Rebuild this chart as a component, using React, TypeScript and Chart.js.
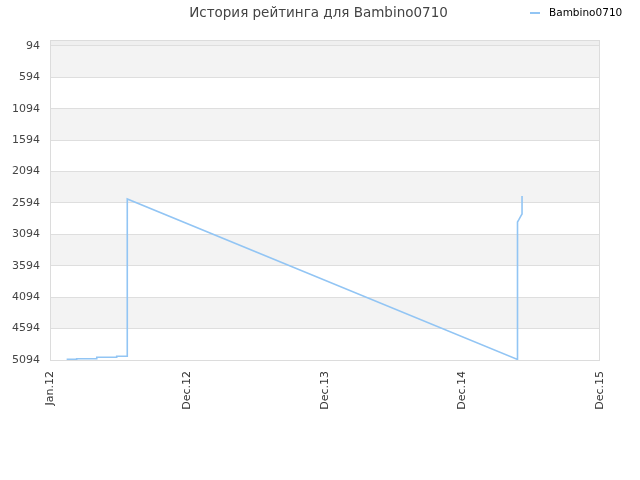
import { useEffect, useRef } from "react";
import Chart from "chart.js/auto";

const title = "История рейтинга для Bambino0710";
const seriesName = "Bambino0710";
const xLabels = ["Jan.12", "Dec.12", "Dec.13", "Dec.14", "Dec.15"];
const yTicks = [94, 594, 1094, 1594, 2094, 2594, 3094, 3594, 4094, 4594, 5094];
// x in label units (0 = Jan.12, 1 = Dec.12, ...)
const xs = [0.121, 0.194, 0.194, 0.34, 0.34, 0.485, 0.485, 0.562, 0.562, 3.4, 3.4, 3.41, 3.425, 3.433, 3.433];
const ratings = [5083, 5083, 5074, 5074, 5051, 5051, 5035, 5035, 2530, 5085, 2897, 2860, 2800, 2770, 2482];

const lineColor = "#92c5f4";

const bandsPlugin = {
  id: "bands",
  beforeDraw(chart: any) {
    const { ctx, chartArea } = chart;
    const y = chart.scales.y;
    ctx.save();
    // strip above first tick
    ctx.fillStyle = "#efefef";
    ctx.fillRect(chartArea.left, chartArea.top, chartArea.right - chartArea.left, y.getPixelForValue(yTicks[0]) - chartArea.top);
    for (let i = 0; i < yTicks.length - 1; i++) {
      if (i % 2 === 0) {
        const a = y.getPixelForValue(yTicks[i]);
        const b = y.getPixelForValue(yTicks[i + 1]);
        ctx.fillStyle = "#f3f3f3";
        ctx.fillRect(chartArea.left, a, chartArea.right - chartArea.left, b - a);
      }
    }
    ctx.restore();
  },
  afterDraw(chart: any) {
    const { ctx, chartArea } = chart;
    ctx.save();
    ctx.strokeStyle = "#dcdcdc";
    ctx.lineWidth = 1;
    ctx.strokeRect(chartArea.left + 0.5, chartArea.top + 0.5, chartArea.right - chartArea.left - 1, chartArea.bottom - chartArea.top);
    // title
    ctx.fillStyle = "#444";
    ctx.font = "13.5px 'DejaVu Sans'";
    ctx.textBaseline = "middle";
    ctx.textAlign = "center";
    ctx.fillText(title, 318.5, 13);
    // legend
    ctx.strokeStyle = lineColor;
    ctx.lineWidth = 2;
    ctx.beginPath();
    ctx.moveTo(530, 13);
    ctx.lineTo(540, 13);
    ctx.stroke();
    ctx.fillStyle = "#000";
    ctx.font = "10.5px 'DejaVu Sans'";
    ctx.textAlign = "left";
    ctx.fillText(seriesName, 549, 13);
    ctx.restore();
  },
};

export default function App() {
  const canvasRef = useRef<HTMLCanvasElement | null>(null);

  useEffect(() => {
    document.body.style.margin = "0";
    if (canvasRef.current == null) return;

    const chart = new Chart(canvasRef.current, {
      type: "line",
      data: {
        datasets: [
          {
            label: seriesName,
            data: xs.map((x, i) => ({ x, y: ratings[i] })),
            borderColor: lineColor,
            borderWidth: 1.6,
            pointRadius: 0,
            tension: 0,
          },
        ],
      },
      options: {
        responsive: false,
        animation: false,
        layout: { padding: { left: 0, right: 40, top: 40, bottom: 0 } },
        plugins: {
          legend: { display: false },
          tooltip: { enabled: false },
          title: { display: false },
        },
        scales: {
          x: {
            type: "linear",
            min: 0,
            max: 4,
            afterBuildTicks: (scale: any) => {
              scale.ticks = xLabels.map((_, i) => ({ value: i }));
            },
            afterFit: (scale: any) => {
              scale.height = 120;
            },
            ticks: {
              minRotation: 90,
              maxRotation: 90,
              color: "#333",
              font: { family: "'DejaVu Sans'", size: 11 },
              callback: (v: any) => xLabels[Math.round(Number(v))] ?? "",
            },
            grid: { display: false },
            border: { display: false },
          },
          y: {
            reverse: true,
            min: 0,
            max: 5094,
            afterBuildTicks: (scale: any) => {
              scale.ticks = yTicks.map((v) => ({ value: v }));
            },
            afterFit: (scale: any) => {
              scale.width = 50;
            },
            ticks: {
              color: "#444",
              padding: 10,
              font: { family: "'DejaVu Sans'", size: 11 },
              callback: (v: any) => String(v),
            },
            grid: { color: "#dedede", drawTicks: false },
            border: { display: false },
          },
        },
      },
      plugins: [bandsPlugin],
    });

    return () => {
      chart.destroy();
    };
  }, []);

  return (
    <div style={{ width: 640, height: 480 }}>
      <canvas ref={canvasRef} width={640} height={480}></canvas>
    </div>
  );
}
